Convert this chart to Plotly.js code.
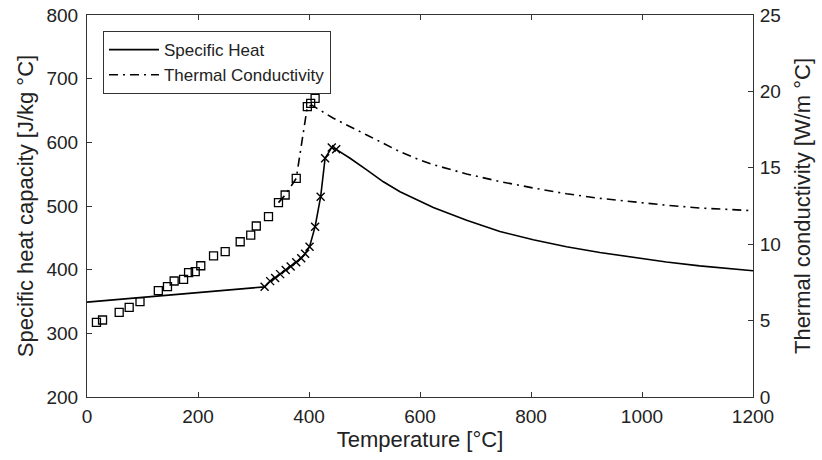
<!DOCTYPE html>
<html><head><meta charset="utf-8">
<script src="https://cdn.plot.ly/plotly-3.0.1.min.js"></script>
<style>body{margin:0;background:#fff}#chart{width:822px;height:460px}</style>
</head><body><div id="chart"></div>
<script>
// Specific heat (left axis, J/kg °C)
const cpTemp = [0, 320, 330, 339, 348, 358, 367, 377, 386, 393, 401, 411, 421, 429, 441, 449, 474, 504, 534, 564, 594, 624, 684, 744, 804, 864, 924, 984, 1044, 1104, 1200];
const cpVal  = [349, 373, 382, 387, 393, 399.5, 405, 411.5, 418, 425, 436, 467.5, 514.6, 575, 592, 589, 575, 556.6, 538, 522.5, 509.4, 497.5, 477.5, 460, 447, 436, 427, 419, 412, 406, 398.4];
const cpMarkTemp = [320, 330, 339, 348, 358, 367, 377, 386, 393, 401, 411, 421, 429, 441, 449];
const cpMarkVal  = [373, 382, 387, 393, 399.5, 405, 411.5, 418, 425, 436, 467.5, 514.6, 575, 592, 589];
// Thermal conductivity (right axis, W/m °C)
const kTemp = [345, 357, 377, 397, 405, 444, 504, 564, 597, 624, 684, 744, 804, 864, 924, 984, 1044, 1104, 1200];
const kVal  = [12.72, 13.22, 14.31, 19.0, 19.1, 18.24, 17.15, 16.05, 15.55, 15.2, 14.6, 14.1, 13.68, 13.3, 13.0, 12.76, 12.55, 12.37, 12.19];
const kMarkTemp = [17, 28, 58, 76, 95.5, 128.5, 145, 157, 174, 183, 195, 205, 228, 249, 276, 295, 305, 327, 345, 357, 377, 397, 403, 411];
const kMarkVal  = [4.89, 5.04, 5.54, 5.87, 6.24, 6.96, 7.22, 7.59, 7.70, 8.14, 8.20, 8.59, 9.23, 9.51, 10.16, 10.60, 11.19, 11.80, 12.72, 13.22, 14.31, 19.0, 19.22, 19.55];
const xTicks = [0, 200, 400, 600, 800, 1000, 1200];
const cpTicks = [200, 300, 400, 500, 600, 700, 800];
const kTicks = [0, 5, 10, 15, 20, 25];

const font = 'Liberation Sans, Arial, sans-serif';
const traces = [
  {x: cpTemp, y: cpVal, mode: 'lines', name: 'Specific Heat', line: {color: '#000', width: 1.6}, yaxis: 'y'},
  {x: kTemp, y: kVal, mode: 'lines', name: 'Thermal Conductivity', line: {color: '#000', width: 1.6, dash: '9px,5px,2px,5px'}, yaxis: 'y2'},
  {x: cpMarkTemp, y: cpMarkVal, mode: 'markers', showlegend: false, yaxis: 'y',
   marker: {symbol: 'x-thin-open', size: 8, color: '#000', line: {color: '#000', width: 1.4}}},
  {x: kMarkTemp, y: kMarkVal, mode: 'markers', showlegend: false, yaxis: 'y2',
   marker: {symbol: 'square-open', size: 8, color: '#000', line: {color: '#000', width: 1.3}}}
];
const tf = {family: font, size: 19, color: '#222'};
const ttl = {family: font, size: 22, color: '#222'};
const axCommon = {showgrid: false, zeroline: false, ticks: 'inside', ticklen: 5, tickcolor: '#333', linecolor: '#333', linewidth: 1, showline: true, tickfont: tf};
const layout = {
  width: 822, height: 460,
  margin: {l: 87, r: 69, t: 15, b: 63},
  paper_bgcolor: '#fff', plot_bgcolor: '#fff',
  font: {family: font, color: '#222'},
  showlegend: true,
  legend: {x: 0.024, y: 0.958, xanchor: 'left', yanchor: 'top', bgcolor: '#fff', bordercolor: '#333', borderwidth: 1, font: {family: font, size: 17, color: '#222'}, tracegroupgap: 0, itemwidth: 50},
  xaxis: Object.assign({}, axCommon, {range: [0, 1200], tickvals: xTicks, mirror: 'ticks', ticklabelstandoff: 2,
    title: {text: 'Temperature [°C]', font: ttl, standoff: 2}}),
  yaxis: Object.assign({}, axCommon, {range: [200, 800], tickvals: cpTicks, ticklabelstandoff: 4,
    title: {text: 'Specific heat capacity [J/kg °C]', font: ttl, standoff: 6}}),
  yaxis2: Object.assign({}, axCommon, {range: [0, 25], tickvals: kTicks, overlaying: 'y', side: 'right', ticklabelstandoff: 2,
    title: {text: 'Thermal conductivity [W/m °C]', font: ttl, standoff: 14}})
};
Plotly.newPlot('chart', traces, layout, {displayModeBar: false, staticPlot: true});
</script></body></html>
